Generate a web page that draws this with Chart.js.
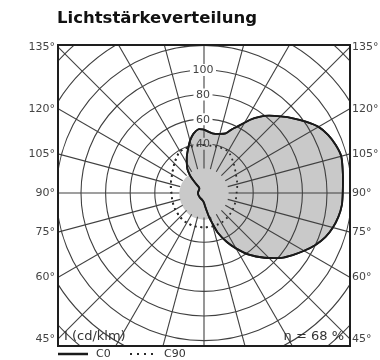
<!DOCTYPE html>
<html>
<head>
<meta charset="utf-8">
<script src="https://cdn.jsdelivr.net/npm/chart.js@4.4.1/dist/chart.umd.min.js"></script>
<style>
  html, body { margin: 0; background: #fff; }
</style>
</head>
<body>
<canvas id="ldc" width="380" height="360"></canvas>
<script>
// C0/C180-Ebene, Winkel ab Nadir; negative Winkel = C180-Seite
const planeAngles = [-180, -175, -170, -165, -160, -155, -150, -145, -142, -140, -139, -138, -130, -90, -45, -12,
  0, 5, 8, 12, 15, 19, 25, 30, 36, 43, 50, 55, 60, 65, 70, 75, 80, 85, 90, 98, 105, 110, 115, 120, 125, 130,
  135, 140, 144, 148, 152, 156, 160, 166, 172, 176, 180];
const planeValues = [51.5, 52, 49, 44, 38, 33, 28, 23.5, 19, 15, 11, 6, 5, 5, 5, 6,
  8, 11, 14, 20, 25, 34, 44, 52, 62, 72, 82, 88, 94, 100, 105, 108.5, 111, 112.5, 112.8, 114, 115.5, 114, 111.5, 107.5, 101, 94.5,
  88, 82, 76.5, 70, 62.5, 57, 51.5, 49.5, 49, 50, 51.5];

// C90/C270 (symmetrisch)
const c90Angles = [0, 15, 30, 45, 60, 75, 90, 105, 120, 135, 150, 165, 180];
const c90Values = [28, 28, 28, 27.5, 27, 26.5, 26.5, 28, 30, 34, 39, 39, 39];

// grau gefuellter Innenbereich
const innerAngles = [0, 30, 60, 90, 120, 150, 180, 210, 240, 270, 300, 330];
const innerValues = [22, 21.5, 20.5, 20, 19.5, 19, 18.8, 19, 19.5, 20, 20.5, 21.5];

const spokeStart = 20;
const ringValues = [40, 60, 80, 100, 120, 140, 160, 180];
const ringTicks = [40, 60, 80, 100];
const spokeAngles = [0, 15, 30, 45, 60, 75, 90, 105, 120, 135, 150, 165, 180, 195, 210, 225, 240, 255, 270, 285, 300, 315, 330, 345];
const angleTicks = [45, 60, 75, 90, 105, 120, 135];

const titleText = "Lichtstärkeverteilung";
const unitText = "I (cd/klm)";
const etaText = "η = 68 %";

const toXY = (g, v) => {
  const a = g * Math.PI / 180;
  return { x: v * Math.sin(a), y: -v * Math.cos(a) };
};

const planePoints = planeAngles.map((g, i) => toXY(g, planeValues[i]));

const c90Points = [];
for (let i = c90Angles.length - 1; i >= 0; i--) c90Points.push(toXY(-c90Angles[i], c90Values[i]));
for (let i = 1; i < c90Angles.length; i++) c90Points.push(toXY(c90Angles[i], c90Values[i]));

const innerPoints = innerAngles.map((g, i) => toXY(g, innerValues[i]));
innerPoints.push(innerPoints[0]);

const smallFont = "11px 'DejaVu Sans'";

const polarGrid = {
  id: "polarGrid",
  afterDatasetsDraw(chart) {
    const { ctx, chartArea: a, scales: { x, y } } = chart;
    const cx = x.getPixelForValue(0), cy = y.getPixelForValue(0);
    const kx = x.getPixelForValue(1) - cx, ky = cy - y.getPixelForValue(1);

    ctx.save();
    ctx.font = smallFont;
    // Rasterlinien, ausser unter den Beschriftungen
    ctx.beginPath();
    ctx.rect(a.left, a.top, a.width, a.height);
    ringTicks.forEach(v => {
      const w = ctx.measureText(String(v)).width + 5;
      ctx.rect(cx - w / 2 - 1, cy - v * ky - 6, w, 12);
    });
    ctx.clip("evenodd");
    ctx.strokeStyle = "#404040";
    ctx.lineWidth = 1.1;
    ringValues.forEach(r => {
      ctx.beginPath();
      ctx.ellipse(cx, cy, r * kx, r * ky, 0, 0, Math.PI * 2);
      ctx.stroke();
    });
    spokeAngles.forEach(g => {
      const p0 = toXY(g, spokeStart), p1 = toXY(g, 260);
      ctx.beginPath();
      ctx.moveTo(x.getPixelForValue(p0.x), y.getPixelForValue(p0.y));
      ctx.lineTo(x.getPixelForValue(p1.x), y.getPixelForValue(p1.y));
      ctx.stroke();
    });
    ctx.restore();

    // Kurven ueber das Raster
    ctx.save();
    ctx.beginPath();
    ctx.rect(a.left, a.top, a.width, a.height);
    ctx.clip();
    [1, 0].forEach(i => chart.getDatasetMeta(i).dataset.draw(ctx, a));
    ctx.restore();

    ctx.save();
    // Rahmen
    ctx.strokeStyle = "#1e1e1e";
    ctx.lineWidth = 2;
    ctx.strokeRect(a.left, a.top, a.width, a.height);

    // Ring-Beschriftung
    ctx.font = smallFont;
    ctx.fillStyle = "#444";
    ctx.textAlign = "center";
    ctx.textBaseline = "middle";
    ringTicks.forEach(v => ctx.fillText(String(v), cx - 1, cy - v * ky + 0.5));

    // Winkel links und rechts
    angleTicks.forEach(g => {
      const a0 = g * Math.PI / 180;
      const py = y.getPixelForValue(-x.max * Math.cos(a0) / Math.sin(a0));
      ctx.textAlign = "right";
      ctx.fillText(g + "°", a.left - 3, py);
      ctx.textAlign = "left";
      ctx.fillText(g + "°", a.right + 2, py);
    });

    // Texte unten im Rahmen
    ctx.font = "13px 'DejaVu Sans'";
    ctx.fillStyle = "#333";
    ctx.textBaseline = "alphabetic";
    ctx.textAlign = "left";
    ctx.fillText(unitText, a.left + 6, a.bottom - 6);
    ctx.textAlign = "right";
    ctx.fillText(etaText, a.right - 6, a.bottom - 6);

    // Titel
    ctx.font = "bold 16.5px 'DejaVu Sans'";
    ctx.fillStyle = "#111";
    ctx.textAlign = "left";
    ctx.fillText(titleText, a.left - 1, 23);

    // Legende
    const ly = a.bottom + 8;
    ctx.font = smallFont;
    ctx.textBaseline = "middle";
    const legend = [[0, a.left, 30], [1, a.left + 72, 26]];
    legend.forEach(([i, lx, len]) => {
      const ds = chart.data.datasets[i];
      ctx.strokeStyle = ds.borderColor;
      ctx.lineWidth = i === 0 ? 2.5 : 2;
      ctx.setLineDash(i === 0 ? [] : [2, 5]);
      ctx.beginPath();
      ctx.moveTo(lx, ly);
      ctx.lineTo(lx + len, ly);
      ctx.stroke();
      ctx.setLineDash([]);
      ctx.fillStyle = "#333";
      ctx.fillText(ds.label, lx + len + 8, ly);
    });
    ctx.restore();
  }
};

new Chart(document.getElementById("ldc"), {
  type: "line",
  data: {
    datasets: [
      {
        label: "C0",
        data: planePoints,
        borderColor: "#1a1a1a",
        borderWidth: 1.8,
        backgroundColor: "#c9c9c9",
        fill: "shape",
        pointRadius: 0,
        tension: 0.2
      },
      {
        label: "C90",
        data: c90Points,
        borderColor: "#2a2a2a",
        borderWidth: 1.8,
        borderDash: [1.8, 3.8],
        fill: false,
        pointRadius: 0,
        tension: 0.3
      },
      {
        label: "inner",
        data: innerPoints,
        borderWidth: 0,
        borderColor: "rgba(0,0,0,0)",
        backgroundColor: "#c9c9c9",
        fill: "shape",
        pointRadius: 0,
        tension: 0.35
      }
    ]
  },
  options: {
    responsive: false,
    animation: false,
    layout: { padding: { left: 58, right: 30, top: 45, bottom: 14 } },
    scales: {
      x: { type: "linear", min: -118.7, max: 118.7, display: false },
      y: { type: "linear", min: -124.4, max: 120.3, display: false }
    },
    plugins: {
      legend: { display: false },
      tooltip: { enabled: false }
    }
  },
  plugins: [polarGrid]
});
</script>
</body>
</html>
